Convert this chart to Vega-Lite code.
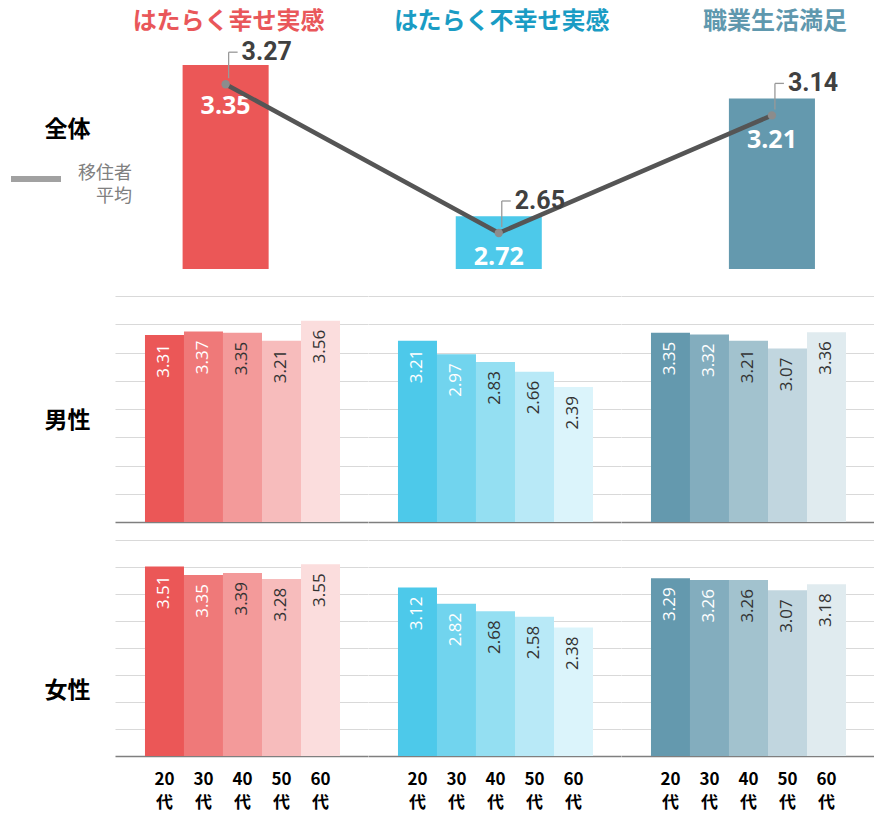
{
  "$schema": "https://vega.github.io/schema/vega-lite/v6.json",
  "padding": {"left": 8, "top": 9, "right": 0, "bottom": 0},
  "background": "white",
  "spacing": 18,
  "config": {
    "view": {"stroke": null},
    "font": "Noto Sans CJK JP",
    "axis": {"titleFont": "Noto Sans CJK JP", "labelFont": "Noto Sans CJK JP"}
  },
  "datasets": {
    "overall": [
      {"metric": "はたらく幸せ実感", "score": 3.35, "avg": 3.27},
      {"metric": "はたらく不幸せ実感", "score": 2.72, "avg": 2.65},
      {"metric": "職業生活満足", "score": 3.21, "avg": 3.14}
    ],
    "male": [
      {"metric": "はたらく幸せ実感", "age": "20代", "value": 3.31},
      {"metric": "はたらく幸せ実感", "age": "30代", "value": 3.37},
      {"metric": "はたらく幸せ実感", "age": "40代", "value": 3.35},
      {"metric": "はたらく幸せ実感", "age": "50代", "value": 3.21},
      {"metric": "はたらく幸せ実感", "age": "60代", "value": 3.56},
      {"metric": "はたらく不幸せ実感", "age": "20代", "value": 3.21},
      {"metric": "はたらく不幸せ実感", "age": "30代", "value": 2.97},
      {"metric": "はたらく不幸せ実感", "age": "40代", "value": 2.83},
      {"metric": "はたらく不幸せ実感", "age": "50代", "value": 2.66},
      {"metric": "はたらく不幸せ実感", "age": "60代", "value": 2.39},
      {"metric": "職業生活満足", "age": "20代", "value": 3.35},
      {"metric": "職業生活満足", "age": "30代", "value": 3.32},
      {"metric": "職業生活満足", "age": "40代", "value": 3.21},
      {"metric": "職業生活満足", "age": "50代", "value": 3.07},
      {"metric": "職業生活満足", "age": "60代", "value": 3.36}
    ],
    "female": [
      {"metric": "はたらく幸せ実感", "age": "20代", "value": 3.51},
      {"metric": "はたらく幸せ実感", "age": "30代", "value": 3.35},
      {"metric": "はたらく幸せ実感", "age": "40代", "value": 3.39},
      {"metric": "はたらく幸せ実感", "age": "50代", "value": 3.28},
      {"metric": "はたらく幸せ実感", "age": "60代", "value": 3.55},
      {"metric": "はたらく不幸せ実感", "age": "20代", "value": 3.12},
      {"metric": "はたらく不幸せ実感", "age": "30代", "value": 2.82},
      {"metric": "はたらく不幸せ実感", "age": "40代", "value": 2.68},
      {"metric": "はたらく不幸せ実感", "age": "50代", "value": 2.58},
      {"metric": "はたらく不幸せ実感", "age": "60代", "value": 2.38},
      {"metric": "職業生活満足", "age": "20代", "value": 3.29},
      {"metric": "職業生活満足", "age": "30代", "value": 3.26},
      {"metric": "職業生活満足", "age": "40代", "value": 3.26},
      {"metric": "職業生活満足", "age": "50代", "value": 3.07},
      {"metric": "職業生活満足", "age": "60代", "value": 3.18}
    ]
  },
  "vconcat": [
    {
      "data": {"name": "overall"},
      "width": 758,
      "height": 242,
      "encoding": {
        "x": {
          "field": "metric", "type": "nominal",
          "sort": ["はたらく幸せ実感", "はたらく不幸せ実感", "職業生活満足"],
          "scale": {"paddingInner": 0.685, "paddingOuter": 0.23, "align": 0.538},
          "axis": {
            "orient": "top", "title": null, "ticks": false, "domain": false, "grid": false,
            "labelAngle": 0, "labelFontSize": 24, "labelFontWeight": "bold", "labelPadding": 3,
            "labelLimit": 400, "labelOffset": 3,
            "labelColor": {
              "condition": [
                {"test": "datum.value === 'はたらく幸せ実感'", "value": "#E9575A"},
                {"test": "datum.value === 'はたらく不幸せ実感'", "value": "#1A9CC4"}
              ],
              "value": "#5F98AE"
            }
          }
        }
      },
      "layer": [
        {
          "mark": {"type": "bar"},
          "encoding": {
            "y": {
              "field": "score", "type": "quantitative",
              "scale": {"domain": [2.4625, 3.4708], "zero": false, "nice": false},
              "axis": {
                "title": "全体", "titleAngle": 0, "titleX": -48, "titleY": 93,
                "titleAlign": "center", "titleBaseline": "middle",
                "titleFontSize": 23, "titleFontWeight": "bold", "titleColor": "#000000",
                "labels": false, "ticks": false, "domain": false, "grid": false
              }
            },
            "y2": {"datum": 2.5},
            "color": {
              "field": "metric", "type": "nominal",
              "scale": {"domain": ["はたらく幸せ実感", "はたらく不幸せ実感", "職業生活満足"], "range": ["#EB5757", "#4DC9EA", "#6499AE"]},
              "legend": null
            }
          }
        },
        {
          "mark": {"type": "text", "baseline": "middle", "dy": 41, "fontSize": 25, "fontWeight": "bold", "font": "Open Sans", "color": "white"},
          "encoding": {
            "y": {"field": "score", "type": "quantitative"},
            "text": {"field": "score", "type": "quantitative", "format": ".2f"}
          }
        },
        {
          "mark": {"type": "line", "strokeWidth": 4.5},
          "encoding": {
            "y": {"field": "avg", "type": "quantitative"},
            "stroke": {
              "datum": "移住者平均",
              "scale": {"range": ["#555555"]},
              "legend": {
                "orient": "none", "legendX": -107, "legendY": 115, "title": null,
                "symbolType": "stroke", "symbolStrokeWidth": 6, "symbolOpacity": 0.55,
                "symbolSize": 2500, "labelFontSize": 18, "labelColor": "#808080",
                "labelExpr": "['移住者', '平均']", "labelAlign": "right", "labelOffset": 68,
                "labelBaseline": "alphabetic", "labelLimit": 200,
                "encode": {
                  "labels": {"update": {"lineHeight": {"value": 23}}}
                }
              }
            }
          }
        },
        {
          "mark": {"type": "point", "filled": true, "size": 70, "color": "#8c8c8c", "opacity": 1},
          "encoding": {"y": {"field": "avg", "type": "quantitative"}}
        },
        {
          "mark": {"type": "rule", "color": "#999999", "strokeWidth": 1.3, "xOffset": 3, "yOffset": -6, "y2Offset": -32},
          "encoding": {
            "y": {"field": "avg", "type": "quantitative"},
            "y2": {"field": "avg"}
          }
        },
        {
          "mark": {"type": "rule", "color": "#999999", "strokeWidth": 1.3, "xOffset": 3, "x2Offset": 12, "yOffset": -32},
          "encoding": {
            "x2": {"field": "metric"},
            "y": {"field": "avg", "type": "quantitative"}
          }
        },
        {
          "mark": {"type": "text", "align": "left", "baseline": "middle", "dx": 16, "dy": -32, "fontSize": 25, "fontWeight": "bold", "font": "Roboto", "color": "#404040"},
          "encoding": {
            "y": {"field": "avg", "type": "quantitative"},
            "text": {"field": "avg", "type": "quantitative", "format": ".2f"}
          }
        }
      ]
    },
    {
      "data": {"name": "male"},
      "facet": {
        "column": {
          "field": "metric", "type": "nominal",
          "sort": ["はたらく幸せ実感", "はたらく不幸せ実感", "職業生活満足"],
          "header": {"labels": false, "title": null}
        }
      },
      "spacing": 0,
      "spec": {
        "width": 252.67,
        "height": 226,
        "encoding": {
          "x": {
            "field": "age", "type": "nominal",
            "scale": {"paddingInner": 0, "paddingOuter": 0.739, "align": 0.52},
            "axis": {"title": null, "labels": false, "ticks": false, "domain": true, "domainColor": "#7f7f7f", "domainWidth": 1.5, "grid": false}
          },
          "y": {
            "field": "value", "type": "quantitative",
            "scale": {"domain": [0, 4], "nice": false},
            "axis": {
              "title": "男性", "titleAngle": 0, "titleX": -48, "titleY": 124,
              "titleAlign": "center", "titleBaseline": "middle",
              "titleFontSize": 23, "titleFontWeight": "bold", "titleColor": "#000000",
              "labels": false, "ticks": false, "domain": false,
              "values": [0.5, 1, 1.5, 2, 2.5, 3, 3.5, 4],
              "grid": true, "gridColor": "#d9d9d9", "gridWidth": 1
            }
          }
        },
        "layer": [
          {"mark": {"type": "bar", "fill": "white"}},
          {
            "mark": {"type": "bar"},
            "encoding": {
              "color": {
                "field": "metric", "type": "nominal",
                "scale": {"domain": ["はたらく幸せ実感", "はたらく不幸せ実感", "職業生活満足"], "range": ["#EB5757", "#4DC9EA", "#6499AE"]},
                "legend": null
              },
              "opacity": {
                "field": "age", "type": "nominal",
                "scale": {"type": "ordinal", "domain": ["20代", "30代", "40代", "50代", "60代"], "range": [1, 0.8, 0.6, 0.4, 0.2]},
                "legend": null
              }
            }
          },
          {
            "mark": {"type": "text", "angle": 270, "align": "right", "baseline": "middle", "dx": -9, "fontSize": 17, "font": "Open Sans"},
            "encoding": {
              "text": {"field": "value", "type": "quantitative", "format": ".2f"},
              "color": {"condition": {"test": "datum.age === '20代' || datum.age === '30代'", "value": "white"}, "value": "#333333"}
            }
          }
        ]
      }
    },
    {
      "data": {"name": "female"},
      "facet": {
        "column": {
          "field": "metric", "type": "nominal",
          "sort": ["はたらく幸せ実感", "はたらく不幸せ実感", "職業生活満足"],
          "header": {"labels": false, "title": null}
        }
      },
      "spacing": 0,
      "spec": {
        "width": 252.67,
        "height": 216,
        "encoding": {
          "x": {
            "field": "age", "type": "nominal",
            "scale": {"paddingInner": 0, "paddingOuter": 0.739, "align": 0.52},
            "axis": {
              "title": null, "ticks": false, "domain": true, "domainColor": "#7f7f7f", "domainWidth": 1.5, "grid": false,
              "labelAngle": 0, "labelFontSize": 17, "labelFontWeight": "bold", "labelColor": "#000000",
              "labelPadding": 15, "labelLineHeight": 23,
              "labelExpr": "[substring(datum.label, 0, 2), substring(datum.label, 2)]"
            }
          },
          "y": {
            "field": "value", "type": "quantitative",
            "scale": {"domain": [0, 4], "nice": false},
            "axis": {
              "title": "女性", "titleAngle": 0, "titleX": -48, "titleY": 150,
              "titleAlign": "center", "titleBaseline": "middle",
              "titleFontSize": 23, "titleFontWeight": "bold", "titleColor": "#000000",
              "labels": false, "ticks": false, "domain": false,
              "values": [0.5, 1, 1.5, 2, 2.5, 3, 3.5, 4],
              "grid": true, "gridColor": "#d9d9d9", "gridWidth": 1
            }
          }
        },
        "layer": [
          {"mark": {"type": "bar", "fill": "white"}},
          {
            "mark": {"type": "bar"},
            "encoding": {
              "color": {
                "field": "metric", "type": "nominal",
                "scale": {"domain": ["はたらく幸せ実感", "はたらく不幸せ実感", "職業生活満足"], "range": ["#EB5757", "#4DC9EA", "#6499AE"]},
                "legend": null
              },
              "opacity": {
                "field": "age", "type": "nominal",
                "scale": {"type": "ordinal", "domain": ["20代", "30代", "40代", "50代", "60代"], "range": [1, 0.8, 0.6, 0.4, 0.2]},
                "legend": null
              }
            }
          },
          {
            "mark": {"type": "text", "angle": 270, "align": "right", "baseline": "middle", "dx": -9, "fontSize": 17, "font": "Open Sans"},
            "encoding": {
              "text": {"field": "value", "type": "quantitative", "format": ".2f"},
              "color": {"condition": {"test": "datum.age === '20代' || datum.age === '30代'", "value": "white"}, "value": "#333333"}
            }
          }
        ]
      }
    }
  ]
}
